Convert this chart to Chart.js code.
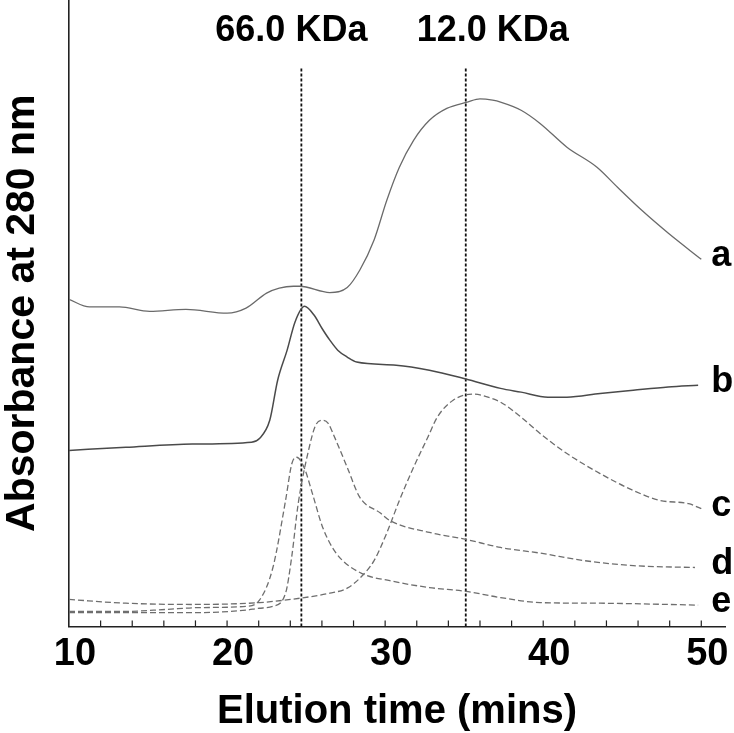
<!DOCTYPE html>
<html>
<head>
<meta charset="utf-8">
<title>Elution profile</title>
<script src="https://cdn.jsdelivr.net/npm/chart.js@4.4.1/dist/chart.umd.min.js"></script>
<style>
  html, body { margin: 0; padding: 0; background: #fff; }
  #wrap { width: 734px; height: 733px; }
</style>
</head>
<body>
<div id="wrap"><canvas id="chart" width="734" height="733"></canvas></div>
<script>
// elution time (min) / absorbance at 280 nm (arbitrary units)
const aTime = [10, 11.3, 13.2, 15.1, 17.4, 20.0, 21.2, 22.5, 23.3, 24.2, 24.6, 26.5, 27.6, 28.4, 29.3, 30.1, 30.9, 31.8, 32.8, 33.9, 35.2, 36.0, 36.8, 37.3, 38.6, 39.8, 41.5, 43.4, 44.7, 46.2, 47.9, 50.0];
const aAbs  = [52.2, 51.0, 51.0, 50.3, 50.6, 50.0, 50.8, 53.2, 54.0, 54.3, 54.3, 53.3, 54.1, 56.9, 61.7, 68.0, 73.3, 77.6, 80.8, 82.7, 83.7, 84.2, 84.0, 83.7, 82.4, 80.3, 76.5, 73.3, 70.1, 66.5, 62.8, 58.6];

const bTime = [10, 13.6, 17.8, 21.55, 22.05, 22.7, 23.2, 23.8, 24.3, 24.9, 25.5, 26.0, 26.5, 27.0, 27.6, 28.2, 30.7, 32.8, 35.1, 37.3, 38.6, 40.3, 41.5, 43.6, 45.7, 47.9, 49.8];
const bAbs  = [28.1, 28.6, 29.1, 29.4, 30.0, 32.9, 39.3, 44.1, 48.6, 51.1, 49.7, 47.6, 45.7, 44.1, 43.0, 42.2, 41.7, 40.9, 39.5, 38.0, 37.4, 36.6, 36.6, 37.2, 37.7, 38.2, 38.5];

const cTime = [10, 13.6, 17.8, 22.05, 24.6, 26.5, 27.6, 28.4, 29.3, 30.1, 30.9, 31.8, 32.7, 33.3, 34.3, 35.6, 36.5, 37.3, 38.6, 39.8, 41.5, 43.6, 45.7, 47.4, 49.2, 50];
const cAbs  = [4.3, 3.7, 3.5, 3.8, 4.5, 5.3, 6.1, 7.7, 10.5, 14.9, 20.1, 25.4, 30.2, 33.4, 36.1, 37.1, 36.6, 35.8, 33.4, 30.8, 27.6, 24.4, 21.7, 20.1, 19.6, 18.8];

const dTime = [10, 13.6, 18.2, 21.2, 22.05, 22.9, 23.7, 24.1, 24.5, 25.2, 25.6, 26.05, 26.4, 26.7, 27.6, 28.4, 29.7, 30.3, 32.8, 35.1, 37.3, 39.8, 42.6, 45.7, 49.6];
const dAbs  = [2.2, 2.2, 2.2, 2.6, 2.9, 3.2, 5.3, 11.3, 19.6, 28.6, 32.1, 32.9, 32.4, 30.8, 25.4, 20.6, 18.1, 16.9, 15.0, 13.9, 12.6, 11.7, 10.5, 9.7, 9.4];

const eTime = [10, 13.6, 16.1, 18.2, 21.2, 22.05, 22.9, 23.7, 24.1, 24.4, 24.9, 25.4, 26.05, 26.9, 28.4, 30.3, 32.8, 35.1, 37.3, 39.8, 43.6, 49.8];
const eAbs  = [2.4, 2.4, 2.7, 3.0, 3.2, 4.2, 9.4, 20.1, 26.0, 27.0, 25.2, 21.2, 15.8, 11.7, 8.6, 7.3, 6.2, 5.6, 4.6, 3.8, 3.7, 3.4];

// molecular weight markers
const markerTimes = [24.7, 35.1];
const markerLabels = ['66.0 KDa', '12.0 KDa'];
const markerTop = 89.3;

const xTickLabels = [10, 20, 30, 40, 50];
const traceNames = ['a', 'b', 'c', 'd', 'e'];

const FONT = '"Liberation Sans", Arial, sans-serif';

function toPoints(times, values) {
  return times.map((t, i) => ({ x: t, y: values[i] }));
}

const traces = [
  { data: toPoints(aTime, aAbs), color: '#6a6a6a', width: 1.3, dash: [] },
  { data: toPoints(bTime, bAbs), color: '#4a4a4a', width: 1.5, dash: [] },
  { data: toPoints(cTime, cAbs), color: '#6e6e6e', width: 1.3, dash: [6, 3] },
  { data: toPoints(dTime, dAbs), color: '#6e6e6e', width: 1.3, dash: [6, 3] },
  { data: toPoints(eTime, eAbs), color: '#6e6e6e', width: 1.3, dash: [6, 3] }
];

const datasets = traces.map((tr, i) => ({
  label: traceNames[i],
  data: tr.data,
  borderColor: tr.color,
  borderWidth: tr.width,
  borderDash: tr.dash,
  pointRadius: 0,
  cubicInterpolationMode: 'monotone',
  fill: false
}));

markerTimes.forEach((t, i) => {
  datasets.push({
    label: markerLabels[i],
    data: [{ x: t, y: 0 }, { x: t, y: markerTop }],
    borderColor: '#111',
    borderWidth: 1.8,
    borderDash: [3, 2],
    pointRadius: 0
  });
});

// inward tick marks, trace letters and marker captions
const extras = {
  id: 'extras',
  afterDraw(chart) {
    const { ctx, chartArea } = chart;
    const x = chart.scales.x;
    const y = chart.scales.y;
    ctx.save();

    ctx.strokeStyle = '#222';
    ctx.lineWidth = 1.2;
    x.ticks.forEach(t => {
      if (t.value <= 10) return;
      const px = x.getPixelForValue(t.value);
      ctx.beginPath();
      ctx.moveTo(px, chartArea.bottom);
      ctx.lineTo(px, chartArea.bottom - 6);
      ctx.stroke();
    });

    ctx.fillStyle = '#000';
    ctx.font = 'bold 36px ' + FONT;
    ctx.textAlign = 'left';
    ctx.textBaseline = 'middle';
    traces.forEach((tr, i) => {
      const last = tr.data[tr.data.length - 1];
      ctx.fillText(traceNames[i], x.getPixelForValue(50) + 10, y.getPixelForValue(last.y) - 3);
    });

    const shift = [-10, 27];
    ctx.textAlign = 'center';
    markerTimes.forEach((t, i) => {
      ctx.fillText(markerLabels[i], x.getPixelForValue(t) + shift[i], 31);
    });
    ctx.restore();
  }
};

new Chart(document.getElementById('chart'), {
  type: 'line',
  data: { datasets },
  options: {
    responsive: false,
    animation: false,
    layout: { padding: { left: 0, right: 9, top: 0, bottom: 0 } },
    plugins: { legend: { display: false }, tooltip: { enabled: false } },
    scales: {
      x: {
        type: 'linear',
        min: 10,
        max: 51.5,
        grid: { display: false, drawTicks: false },
        border: { display: true, color: '#222', width: 1.6 },
        afterBuildTicks: scale => {
          scale.ticks = scale.ticks.filter(t => t.value <= 50.001);
        },
        ticks: {
          stepSize: 2,
          includeBounds: false,
          autoSkip: false,
          maxRotation: 0,
          labelOffset: 6,
          padding: 5,
          color: '#000',
          font: { family: FONT, size: 38, weight: 'bold' },
          callback: v => xTickLabels.includes(Math.round(v)) ? String(Math.round(v)) : ''
        },
        title: {
          display: true,
          text: 'Elution time (mins)',
          color: '#000',
          font: { family: FONT, size: 40, weight: 'bold', lineHeight: 1 },
          padding: { top: 10, bottom: 1 }
        }
      },
      y: {
        min: 0,
        max: 100,
        grid: { display: false, drawTicks: false },
        border: { display: true, color: '#222', width: 1.6 },
        ticks: { display: false },
        title: {
          display: true,
          text: 'Absorbance at 280 nm',
          color: '#000',
          font: { family: FONT, size: 41, weight: 'bold', lineHeight: 1 },
          padding: { top: 2, bottom: 26 }
        }
      }
    }
  },
  plugins: [extras]
});
</script>
</body>
</html>
